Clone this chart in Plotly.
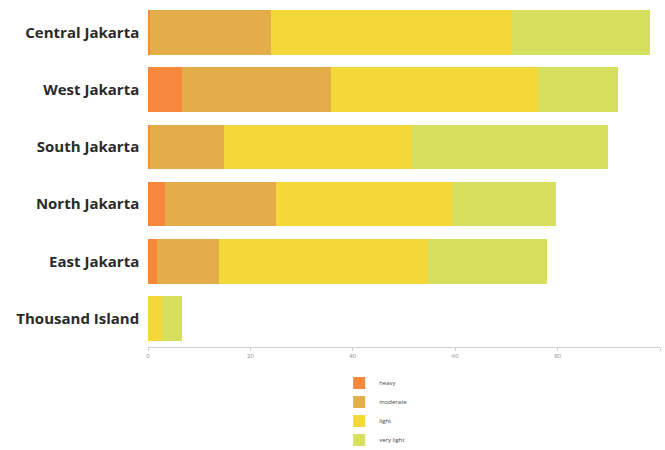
import plotly.graph_objects as go

regions = ["Central Jakarta", "West Jakarta", "South Jakarta", "North Jakarta", "East Jakarta", "Thousand Island"]
heavy = [0.3, 6.7, 0.3, 3.4, 1.8, 0.0]
moderate = [23.7, 29.0, 14.5, 21.6, 12.0, 0.0]
light = [47.0, 40.5, 36.8, 34.4, 40.8, 2.7]
very_light = [27.0, 15.6, 38.2, 20.3, 23.3, 4.0]
tick_vals = [0, 20, 40, 60, 80, 100]

series = [("heavy", heavy, "#F5883C"), ("moderate", moderate, "#E3AD4A"),
          ("light", light, "#F4D83A"), ("very light", very_light, "#D6E05E")]

fig = go.Figure()
for name, vals, col in series:
    fig.add_trace(go.Bar(y=regions, x=vals, name=name, orientation="h",
                         marker=dict(color=col, line=dict(width=0)), width=0.78))

fig.update_layout(
    width=665, height=450, barmode="stack",
    margin=dict(l=148, r=5, t=4, b=103, autoexpand=False),
    paper_bgcolor="white", plot_bgcolor="white",
    font=dict(family="Open Sans", color="#333"),
    xaxis=dict(range=[0, 100], tickvals=tick_vals, showgrid=False, showline=True,
               linecolor="#cfcfcf", linewidth=1, ticks="outside", ticklen=3,
               tickcolor="#cfcfcf", tickfont=dict(size=6, color="#888")),
    yaxis=dict(autorange="reversed", showgrid=False, ticks="",
               tickfont=dict(family="Open Sans", size=15, color="#2a2a2a", weight="bold"),
               ticksuffix="  "),
    legend=dict(xref="container", yref="container", x=0.51, y=0.181,
                xanchor="left", yanchor="top", font=dict(size=6, color="#444"),
                orientation="v", traceorder="normal"),
    bargap=0.22,
)
fig.write_html("out.html", post_script="document.body.style.margin='0';",
               config={"displayModeBar": False})
